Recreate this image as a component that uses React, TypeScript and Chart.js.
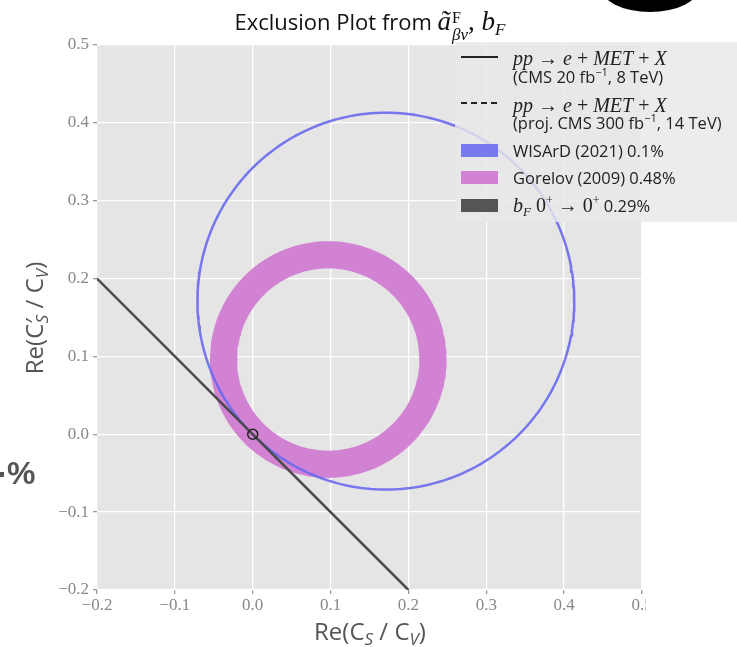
import React, { useEffect, useRef } from "react";
import { Chart, registerables } from "chart.js";

Chart.register(...registerables);

// ---- data ----
const X_RANGE = [-0.2, 0.5];
const Y_RANGE = [-0.2, 0.5];
const TICK_VALUES = [-0.2, -0.1, 0.0, 0.1, 0.2, 0.3, 0.4, 0.5];
const TICK_LABELS = ["−0.2", "−0.1", "0.0", "0.1", "0.2", "0.3", "0.4", "0.5"];

// WISArD (2021) 0.1% : circle
const WISARD_CENTER = [0.171, 0.171];
const WISARD_RADIUS = 0.242;

// Gorelov (2009) 0.48% : annulus
const GORELOV_CENTER = [0.097, 0.096];
const GORELOV_INNER_RADIUS = 0.117;
const GORELOV_OUTER_RADIUS = 0.152;

// b_F 0+ -> 0+ 0.29% : straight band edge
const BF_X = [-0.2, 0.2];
const BF_Y = [0.2, -0.2];

// Standard-model point
const SM_X = [0.0];
const SM_Y = [0.0];

const CIRCLE_STEPS = 240;

function circlePoints(c: number[], r: number, reverse: boolean) {
  const pts: { x: number; y: number }[] = [];
  for (let i = 0; i <= CIRCLE_STEPS; i++) {
    const t = ((reverse ? CIRCLE_STEPS - i : i) / CIRCLE_STEPS) * Math.PI * 2;
    pts.push({ x: c[0] + r * Math.cos(t), y: c[1] + r * Math.sin(t) });
  }
  return pts;
}

const bgPlugin = {
  id: "plotBg",
  beforeDraw(chart: any) {
    const { ctx, chartArea: a } = chart;
    ctx.save();
    ctx.fillStyle = "#e5e5e5";
    ctx.fillRect(a.left, a.top, a.right - a.left, a.bottom - a.top);
    ctx.restore();
  },
  afterDraw(chart: any) {
    // the reference image is cropped just right of the last x tick
    chart.ctx.clearRect(646, 594, 100, 30);
  },
};

const serifTick = { family: "'Liberation Serif', 'DejaVu Serif', serif", size: 17 };

function ChartCanvas() {
  const ref = useRef<HTMLCanvasElement | null>(null);
  useEffect(() => {
    if (!ref.current) return;
    const chart = new Chart(ref.current, {
      type: "line",
      data: {
        datasets: [
          {
            label: "SM",
            data: SM_X.map((x, i) => ({ x, y: SM_Y[i] })),
            showLine: false,
            pointRadius: 5,
            pointBorderWidth: 1.5,
            pointBorderColor: "#222",
            pointBackgroundColor: "rgba(0,0,0,0)",
          },
          {
            label: "bF",
            data: BF_X.map((x, i) => ({ x, y: BF_Y[i] })),
            borderColor: "#4a4a4a",
            borderWidth: 2.5,
            pointRadius: 0,
            fill: false,
          },
          {
            label: "WISArD",
            data: circlePoints(WISARD_CENTER, WISARD_RADIUS, false),
            borderColor: "rgba(105,105,240,0.9)",
            borderWidth: 2.5,
            pointRadius: 0,
            fill: false,
          },
          {
            label: "Gorelov",
            data: [
              ...circlePoints(GORELOV_CENTER, GORELOV_OUTER_RADIUS, false),
              ...circlePoints(GORELOV_CENTER, GORELOV_INNER_RADIUS, true),
            ],
            borderWidth: 0,
            borderColor: "rgba(0,0,0,0)",
            backgroundColor: "rgb(210,130,210)",
            pointRadius: 0,
            fill: "shape",
          },
        ],
      } as any,
      options: {
        responsive: false,
        animation: false,
        devicePixelRatio: 1,
        events: [],
        layout: { padding: { top: 45, right: 95, bottom: 0, left: 0 } },
        plugins: { legend: { display: false }, tooltip: { enabled: false }, title: { display: false } },
        scales: {
          x: {
            type: "linear",
            min: X_RANGE[0],
            max: X_RANGE[1],
            afterBuildTicks: (s: any) => {
              s.ticks = TICK_VALUES.map((v) => ({ value: v }));
            },
            afterFit: (s: any) => {
              s.height = 57;
            },
            ticks: {
              callback: (_v: any, i: number) => TICK_LABELS[i],
              color: "#888",
              font: serifTick,
              padding: 1,
              maxRotation: 0,
            },
            grid: { color: "#ffffff", lineWidth: 1.3, tickColor: "#999", tickLength: 4 },
            border: { display: false },
          },
          y: {
            type: "linear",
            min: Y_RANGE[0],
            max: Y_RANGE[1],
            afterBuildTicks: (s: any) => {
              s.ticks = TICK_VALUES.map((v) => ({ value: v }));
            },
            afterFit: (s: any) => {
              s.width = 97;
            },
            ticks: {
              callback: (_v: any, i: number) => TICK_LABELS[i],
              color: "#888",
              font: serifTick,
              padding: 4,
            },
            grid: { color: "#ffffff", lineWidth: 1.3, tickColor: "#999", tickLength: 4 },
            border: { display: false },
          },
        },
      } as any,
      plugins: [bgPlugin],
    });
    return () => chart.destroy();
  }, []);
  return <canvas ref={ref} width={737} height={647} style={{ position: "absolute", left: 0, top: 0 }} />;
}

const SANS = "'Open Sans', 'Liberation Sans', sans-serif";
const SERIF = "'Liberation Serif', 'DejaVu Serif', serif";

const mathI: React.CSSProperties = { fontFamily: SERIF, fontStyle: "italic" };
const mathR: React.CSSProperties = { fontFamily: SERIF, fontStyle: "normal" };

function MetLine() {
  return (
    <span style={{ fontFamily: SERIF, fontSize: 20 }}>
      <span style={mathI}>pp</span>
      <span style={mathR}> → </span>
      <span style={mathI}>e</span>
      <span style={mathR}> + </span>
      <span style={mathI}>MET</span>
      <span style={mathR}> + </span>
      <span style={mathI}>X</span>
    </span>
  );
}

const supStyle: React.CSSProperties = { fontSize: 11, position: "relative", top: -7 };

function Row({ top, children, left = 58 }: { top: number; children: any; left?: number }) {
  return (
    <div
      style={{
        position: "absolute",
        left,
        top: top - 11,
        height: 22,
        lineHeight: "22px",
        whiteSpace: "nowrap",
        fontFamily: SANS,
        fontSize: 16.5,
        color: "#222",
      }}
    >
      {children}
    </div>
  );
}

function Legend() {
  const patch = (top: number, color: string) => (
    <div style={{ position: "absolute", left: 6, top, width: 37, height: 13, background: color }} />
  );
  return (
    <div
      style={{
        position: "absolute",
        left: 455,
        top: 42,
        width: 300,
        height: 180,
        background: "rgba(232,232,232,0.82)",
      }}
    >
      <div style={{ position: "absolute", left: 6, top: 14, width: 37, height: 1.6, background: "#222" }} />
      <Row top={16}>
        <MetLine />
      </Row>
      <Row top={35}>
        (CMS 20 fb<span style={supStyle}>−1</span>, 8 TeV)
      </Row>
      <div
        style={{
          position: "absolute",
          left: 6,
          top: 60,
          width: 37,
          height: 1.6,
          background: "repeating-linear-gradient(to right, #222 0 6px, transparent 6px 10px)",
        }}
      />
      <Row top={63}>
        <MetLine />
      </Row>
      <Row top={81}>
        (proj. CMS 300 fb<span style={supStyle}>−1</span>, 14 TeV)
      </Row>
      {patch(102, "rgba(122,122,240,1)")}
      <Row top={109}>WISArD (2021) 0.1%</Row>
      {patch(129, "rgb(210,130,212)")}
      <Row top={136}>Gorelov (2009) 0.48%</Row>
      {patch(157, "#555555")}
      <Row top={163}>
        <span style={{ ...mathI, fontSize: 20 }}>b</span>
        <span style={{ ...mathI, fontSize: 13, position: "relative", top: 4 }}>F</span>
        <span style={{ ...mathR, fontSize: 20 }}> 0</span>
        <span style={{ ...mathR, fontSize: 12, position: "relative", top: -8 }}>+</span>
        <span style={{ ...mathR, fontSize: 20 }}> → 0</span>
        <span style={{ ...mathR, fontSize: 12, position: "relative", top: -8 }}>+</span>
        <span> 0.29%</span>
      </Row>
    </div>
  );
}

function Title() {
  return (
    <div
      style={{
        position: "absolute",
        left: 370,
        top: 24,
        transform: "translate(-50%, -50%)",
        whiteSpace: "nowrap",
        fontFamily: SANS,
        fontSize: 22,
        color: "#111",
      }}
    >
      Exclusion Plot from{" "}
      <span style={{ ...mathI, fontSize: 27 }}>ã</span>
      <span
        style={{
          display: "inline-flex",
          flexDirection: "column",
          verticalAlign: "middle",
          lineHeight: "17px",
          marginLeft: 1,
          position: "relative",
          top: 2,
        }}
      >
        <span style={{ ...mathR, fontSize: 16 }}>F</span>
        <span style={{ ...mathI, fontSize: 17 }}>βν</span>
      </span>
      <span style={{ ...mathR, fontSize: 27 }}>, </span>
      <span style={{ ...mathI, fontSize: 27 }}>b</span>
      <span style={{ ...mathI, fontSize: 17, position: "relative", top: 5 }}>F</span>
    </div>
  );
}

const subS: React.CSSProperties = { fontStyle: "italic", fontSize: 17, position: "relative", top: 5 };

export default function App() {
  return (
    <div
      style={{
        position: "fixed",
        left: 0,
        top: 0,
        width: 737,
        height: 647,
        overflow: "hidden",
        background: "#fff",
      }}
    >
      <ChartCanvas />
      <Title />
      <Legend />
      {/* x axis label */}
      <div
        style={{
          position: "absolute",
          left: 370,
          top: 630,
          transform: "translate(-50%, -50%)",
          whiteSpace: "nowrap",
          fontFamily: SANS,
          fontSize: 24,
          color: "#555",
        }}
      >
        Re(C<span style={subS}>S</span> / C<span style={subS}>V</span>)
      </div>
      {/* y axis label */}
      <div
        style={{
          position: "absolute",
          left: 33,
          top: 318,
          transform: "translate(-50%, -50%) rotate(-90deg)",
          whiteSpace: "nowrap",
          fontFamily: SANS,
          fontSize: 24,
          color: "#555",
        }}
      >
        Re(C′<span style={{ ...subS, marginLeft: -5 }}>S</span> / C<span style={subS}>V</span>)
      </div>
      {/* fragment of slide text at the left edge */}
      <div
        style={{
          position: "absolute",
          left: 7,
          top: 453,
          whiteSpace: "nowrap",
          fontFamily: "'Liberation Sans', sans-serif",
          fontWeight: 700,
          fontSize: 32,
          lineHeight: "40px",
          color: "#555",
        }}
      >
        %
      </div>
      <div style={{ position: "absolute", left: 0, top: 472, width: 4, height: 5, background: "#555" }} />
      {/* fragment of slide graphic at top right */}
      <div
        style={{
          position: "absolute",
          left: 600,
          top: -40,
          width: 100,
          height: 52,
          borderRadius: "50%",
          background: "#000",
        }}
      />
    </div>
  );
}
